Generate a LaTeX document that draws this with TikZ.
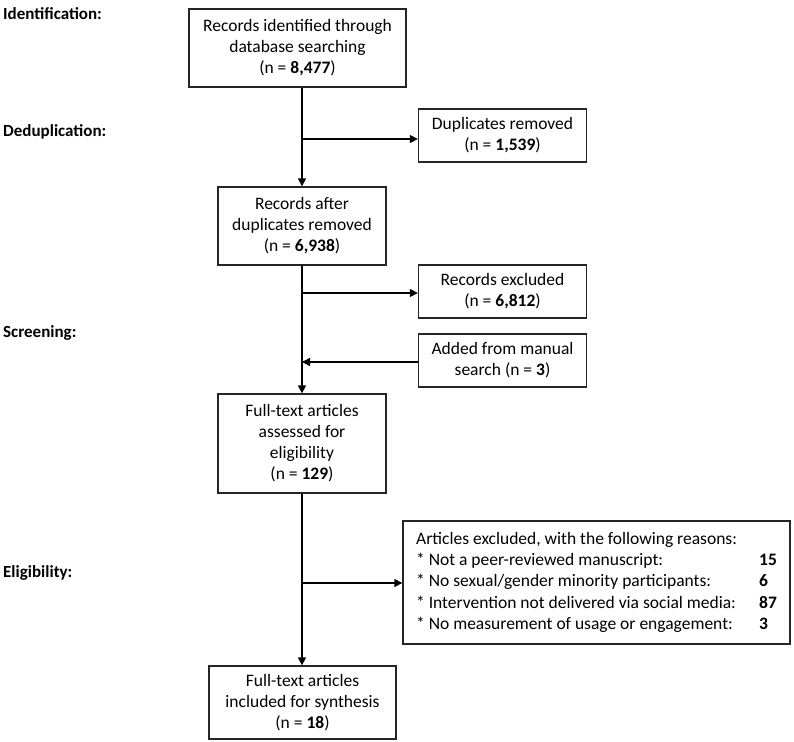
\documentclass[tikz,border=0pt]{standalone}
\usepackage{fontspec}
\setmainfont{Carlito}
\usetikzlibrary{arrows.meta}
\tikzset{
  box/.style={draw=black!85, line width=1.3pt, align=center, inner sep=0pt,
    font=\fontsize{17.5}{21}\selectfont},
  stagelabel/.style={anchor=west, inner sep=0pt, font=\fontsize{17}{21}\selectfont\bfseries},
  conn/.style={line width=1.3pt, draw=black},
  arr/.style={conn, -{Triangle[length=8pt,width=8pt]}}
}
\begin{document}
\begin{tikzpicture}[x=1pt,y=-1pt]
\useasboundingbox (0,0) rectangle (794,741);
% stage labels
\node[stagelabel] (lid) at (3,14) {Identification:};
\node[stagelabel] (ldd) at (3,132) {Deduplication:};
\node[stagelabel] (lsc) at (3,333) {Screening:};
\node[stagelabel] (lel) at (3,573) {Eligibility:};
% boxes
\node[box, minimum width=217pt, minimum height=78pt] (b1) at (297.5,48)
  {Records identified through\\database searching\\(n = \textbf{8,477})};
\node[box, minimum width=168pt, minimum height=53pt] (dup) at (502.5,135.5)
  {Duplicates removed\\(n = \textbf{1,539})};
\node[box, minimum width=168pt, minimum height=78pt] (b2) at (302,226)
  {Records after\\duplicates removed\\(n = \textbf{6,938})};
\node[box, minimum width=168pt, minimum height=53pt] (excl) at (502.5,291.5)
  {Records excluded\\(n = \textbf{6,812})};
\node[box, minimum width=168pt, minimum height=53pt] (add) at (502.5,360.5)
  {Added from manual\\search (n = \textbf{3})};
\node[box, minimum width=168pt, minimum height=99pt] (b3) at (302,443.5)
  {Full-text articles\\assessed for\\eligibility\\(n = \textbf{129})};
\node[box, minimum width=387pt, minimum height=123pt, align=left,
  font=\fontsize{17.5}{21.3}\selectfont] (art) at (596.5,582.5)
  {\begin{tabular}{@{}p{343pt}@{}l@{}}
   \multicolumn{2}{@{}l@{}}{Articles excluded, with the following reasons:}\\
   \relax * Not a peer-reviewed manuscript: & \textbf{15}\\
   \relax * No sexual/gender minority participants: & \textbf{6}\\
   \relax * Intervention not delivered via social media: & \textbf{87}\\
   \relax * No measurement of usage or engagement: & \textbf{3}
   \end{tabular}};
\node[box, minimum width=187pt, minimum height=73pt] (b4) at (302.5,702.5)
  {Full-text articles\\included for synthesis\\(n = \textbf{18})};
% junction coordinates
\coordinate (j1) at (302,139);
\coordinate (j2) at (302,293);
\coordinate (j3) at (302,362);
\coordinate (j4) at (302,583);
% connectors
\draw[arr] (b1.south -| j1) -- (b2.north -| j1);
\draw[arr] (j1) -- (j1 -| dup.west);
\draw[arr] (b2.south -| j2) -- (b3.north -| j2);
\draw[arr] (j2) -- (j2 -| excl.west);
\draw[arr] (j3 -| add.west) -- (j3);
\draw[arr] (b3.south -| j4) -- (b4.north -| j4);
\draw[arr] (j4) -- (j4 -| art.west);
\end{tikzpicture}
\end{document}
